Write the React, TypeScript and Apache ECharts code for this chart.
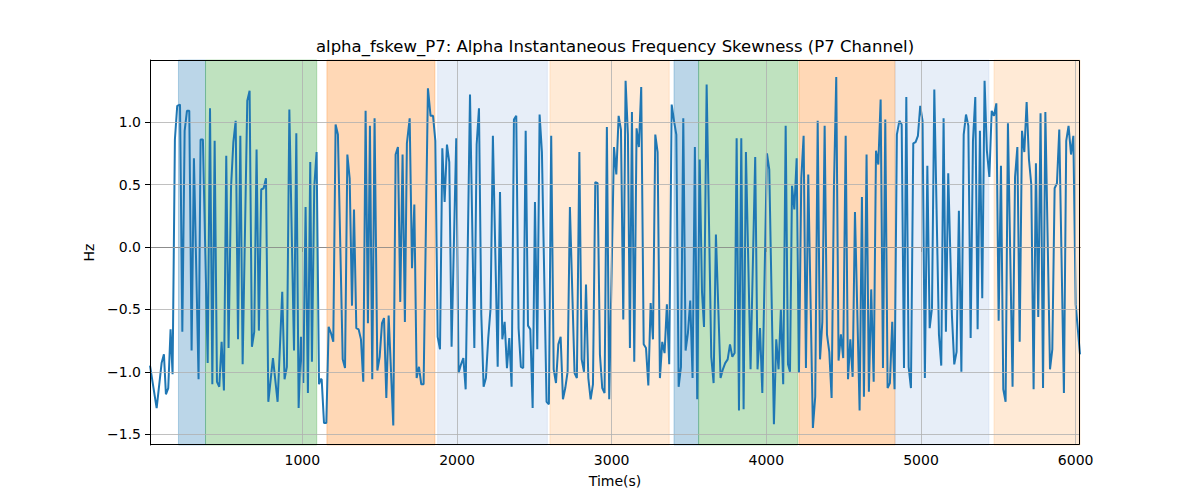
import { useEffect, useRef } from 'react';
import * as echarts from 'echarts';

const TITLE = 'alpha_fskew_P7: Alpha Instantaneous Frequency Skewness (P7 Channel)';
const FONT = '"DejaVu Sans", sans-serif';

// time (s) of each sample
const timeSec = [
  15, 58, 90, 105, 118, 133, 148, 161, 176, 191, 209, 224, 239, 254, 269, 284, 299, 329, 342, 357,
  388, 403, 418, 433, 448, 463, 478, 493, 508, 523, 539, 554, 569, 584, 599, 614, 644, 659, 674, 689,
  704, 719, 734, 750, 765, 780, 810, 840, 870, 885, 900, 916, 946, 961, 976, 991, 1006, 1021, 1036, 1051,
  1062, 1077, 1092, 1108, 1118, 1125, 1140, 1155, 1170, 1185, 1200, 1215, 1230, 1261, 1276, 1291, 1306, 1321, 1334, 1349,
  1364, 1379, 1394, 1409, 1424, 1437, 1452, 1467, 1485, 1500, 1515, 1528, 1543, 1558, 1588, 1603, 1618, 1633, 1648, 1663,
  1676, 1694, 1709, 1724, 1739, 1754, 1769, 1784, 1812, 1829, 1845, 1860, 1875, 1890, 1905, 1920, 1935, 1950, 1965, 1995,
  2010, 2026, 2041, 2056, 2084, 2112, 2127, 2142, 2157, 2172, 2187, 2202, 2217, 2232, 2263, 2278, 2293, 2308, 2323, 2338,
  2353, 2368, 2383, 2398, 2413, 2428, 2444, 2459, 2474, 2489, 2504, 2519, 2534, 2549, 2579, 2594, 2609, 2625, 2640, 2655,
  2670, 2685, 2700, 2715, 2730, 2760, 2775, 2791, 2806, 2821, 2834, 2849, 2864, 2879, 2894, 2909, 2924, 2939, 2954, 2969,
  2984, 3015, 3030, 3045, 3060, 3075, 3090, 3105, 3118, 3131, 3146, 3161, 3176, 3191, 3207, 3222, 3237, 3252, 3267, 3282,
  3297, 3312, 3327, 3342, 3357, 3372, 3388, 3403, 3418, 3433, 3448, 3463, 3478, 3493, 3508, 3523, 3538, 3553, 3569, 3584,
  3597, 3614, 3644, 3659, 3674, 3704, 3719, 3734, 3750, 3765, 3780, 3795, 3808, 3823, 3838, 3853, 3868, 3898, 3928, 3943,
  3959, 3974, 4004, 4019, 4049, 4064, 4079, 4094, 4109, 4125, 4140, 4153, 4166, 4181, 4196, 4211, 4226, 4241, 4256, 4271,
  4301, 4316, 4332, 4347, 4362, 4377, 4392, 4407, 4422, 4437, 4452, 4467, 4482, 4497, 4513, 4528, 4543, 4558, 4573, 4603,
  4618, 4631, 4648, 4663, 4678, 4694, 4709, 4724, 4739, 4754, 4769, 4784, 4799, 4814, 4829, 4844, 4860, 4875, 4890, 4905,
  4920, 4935, 4950, 4965, 4980, 4995, 5010, 5025, 5041, 5056, 5071, 5086, 5116, 5131, 5146, 5161, 5176, 5200, 5215, 5230,
  5245, 5261, 5276, 5291, 5306, 5321, 5336, 5351, 5366, 5381, 5396, 5411, 5426, 5442, 5457, 5472, 5487, 5502, 5517, 5532,
  5547, 5562, 5592, 5608, 5623, 5638, 5653, 5668, 5683, 5698, 5713, 5728, 5743, 5758, 5773, 5789, 5804, 5834, 5849, 5864,
  5879, 5894, 5924, 5939, 5954, 5970, 5985, 6000, 6028,
];

// skewness (Hz), one per entry of timeSec
const skewHz = [
  -0.95, -1.29, -0.93, -0.86, -1.18, -1.13, -0.66, -1.02, 0.86, 1.13, 1.14, -0.68, 0.93, 1.09, 1.09, -0.83, 0.71, -1.06, 0.86, 0.86,
  -0.93, 1.11, -1.1, 0.85, -1.08, -1.12, -0.76, -1.15, 0.73, -0.81, 0.48, 0.84, 1.01, -0.74, 0.89, -0.94, 1.17, 1.25, -0.8, -0.68,
  0.78, -0.67, 0.46, 0.47, 0.55, -1.24, -0.89, -1.24, -0.36, -1.06, -0.96, 1.1, -0.83, 0.91, -1.29, -0.72, -1.09, 0.32, -1.17, 0.68,
  -0.92, 0.48, 0.76, -1.1, -1.06, -1.06, -1.41, -1.41, -0.64, -0.69, -0.76, 0.98, 0.9, -0.9, -0.97, 0.74, 0.55, -0.47, 0.3, -0.65,
  -0.66, -0.74, -1.08, 1.09, -0.61, 0.97, -1.06, 1.03, -0.99, -0.88, -0.61, -0.57, -1.21, -0.55, -1.43, 0.74, 0.8, -0.44, 0.74, -0.6,
  0.83, 1.03, -0.17, 0.34, -1.05, -0.96, -1.1, -1.1, 1.27, 1.05, 1.05, 0.85, -0.72, -0.82, 0.79, 0.36, 0.82, 0.68, -0.8, 0.87,
  -1.01, -0.94, -0.89, -1.14, 1.22, -0.81, 0.82, 1.11, -0.54, -1.12, -1.05, -0.73, -0.49, 0.89, -0.96, 0.44, -0.74, -0.6, -0.97, -0.73,
  -1.12, 1.02, 1.05, -0.65, -0.96, -0.97, 0.93, -0.63, -0.66, -1.29, 0.36, -0.82, 1.06, 0.76, -1.24, -1.26, 0.89, -0.98, -1.09, -0.78,
  -0.72, -1.22, -1.13, -1.0, 0.32, -1.01, -1.05, 0.76, -0.9, -1.0, -0.3, -1.05, -1.22, -1.1, 0.52, 0.51, -0.86, -1.13, -1.17, 0.96,
  -1.22, 0.8, 0.58, 1.05, 0.94, -0.58, 1.33, 0.9, -0.81, 1.08, -0.92, 0.95, 0.8, 1.28, -0.78, -0.81, -1.11, -0.45, -0.74, 0.9,
  0.76, -1.05, -0.76, -0.85, -0.46, -0.94, 1.14, 1.01, 0.9, -1.12, -0.96, 1.03, -0.83, -0.69, -0.43, -1.05, 0.8, -1.22, 0.7, -0.36,
  -0.64, 1.3, -0.88, -1.09, 0.1, -1.05, -0.98, -0.93, -0.9, -0.78, -0.88, -0.85, 0.87, -1.31, 0.87, -1.3, 0.76, -0.98, 0.72, -0.98,
  -0.65, -1.17, 0.75, 0.62, -1.42, -0.74, -0.98, -0.5, -1.1, 0.97, -0.94, -1.0, 0.49, 0.3, 0.71, -1.01, 0.55, 0.89, -0.97, 0.58,
  -1.45, -1.2, 1.01, -0.9, -0.6, 0.97, -0.7, -0.84, -1.21, 0.47, 1.36, -0.91, -0.7, -0.89, 0.89, -1.06, -0.74, -1.04, 0.28, -1.31,
  0.4, -1.2, 0.74, -1.16, -0.34, -1.08, 0.77, 0.66, 1.18, -0.97, 1.02, -1.13, -1.09, -0.6, -1.14, 0.9, 1.01, 0.98, -0.97, 1.2,
  -0.96, -1.13, 0.83, 0.84, 0.89, 1.13, 1.01, -1.05, 0.65, -0.65, -0.49, 1.26, -0.7, -0.95, 1.03, -0.68, 0.59, -0.55, -0.94, -0.84,
  0.29, -1.0, 0.9, 1.06, 0.97, -0.73, 0.85, 1.2, -0.66, 0.93, -0.41, 1.33, 0.77, 0.56, 1.09, 1.05, 1.15, -0.59, 0.65, -1.14,
  -1.24, 0.99, -1.12, 0.56, 0.8, -0.76, 0.93, 0.76, 1.16, 0.7, 0.5, -1.14, 0.67, -0.56, 1.07, -1.13, 1.08, -0.98, -0.82, 0.47,
  0.51, 0.94, -1.17, 0.85, 0.97, 0.74, 0.89, -0.46, -0.86,
];

// shaded time segments
const bandStart = [199, 374, 1159, 1875, 2601, 3403, 3562, 4211, 4832, 5472];
const bandEnd = [374, 1093, 1857, 2584, 3372, 3562, 4203, 4832, 5439, 6028];
const bandColor = [
  'rgba(31,119,180,0.3)',
  'rgba(44,160,44,0.3)',
  'rgba(255,127,14,0.3)',
  'rgba(174,199,232,0.3)',
  'rgba(255,187,120,0.3)',
  'rgba(31,119,180,0.3)',
  'rgba(44,160,44,0.3)',
  'rgba(255,127,14,0.3)',
  'rgba(174,199,232,0.3)',
  'rgba(255,187,120,0.3)',
];

const xTicks = [1000, 2000, 3000, 4000, 5000, 6000];
const yTicks = [-1.5, -1.0, -0.5, 0.0, 0.5, 1.0];

const X_MIN = 15;
const X_MAX = 6028;
const Y_MIN = -1.586;
const Y_MAX = 1.497;

export default function App() {
  const elRef = useRef<HTMLDivElement | null>(null);

  useEffect(() => {
    const el = elRef.current;
    if (!el) return;
    const chart = echarts.init(el, undefined, { renderer: 'svg' });

    const tickLabel = { color: '#000', fontSize: 14, fontFamily: FONT };

    chart.setOption({
      animation: false,
      backgroundColor: '#fff',
      grid: { left: 150, right: 120, top: 60, bottom: 55 },
      graphic: [
        {
          type: 'text',
          x: 615,
          y: 46,
          style: {
            text: TITLE,
            fill: '#000',
            font: `16.5px ${FONT}`,
            textAlign: 'center',
            textVerticalAlign: 'middle',
          },
        },
        {
          // axes frame drawn above the shaded bands
          type: 'rect',
          z: 100,
          silent: true,
          shape: { x: 150.5, y: 60.5, width: 929, height: 384 },
          style: { fill: 'none', stroke: '#000', lineWidth: 1 },
        },
      ],
      xAxis: {
        type: 'value',
        min: X_MIN,
        max: X_MAX,
        name: 'Time(s)',
        nameLocation: 'middle',
        nameGap: 29,
        nameTextStyle: tickLabel,
        splitLine: { show: false },
        axisLine: { show: true, lineStyle: { color: '#000', width: 1 } },
        axisTick: { show: true, length: 5, customValues: xTicks, lineStyle: { color: '#000' } },
        axisLabel: {
          ...tickLabel,
          margin: 8,
          customValues: xTicks,
          formatter: (v: number) => String(v),
        },
      },
      yAxis: {
        type: 'value',
        min: Y_MIN,
        max: Y_MAX,
        name: 'Hz',
        nameLocation: 'middle',
        nameGap: 50,
        nameTextStyle: tickLabel,
        splitLine: { show: false },
        axisLine: { show: true, lineStyle: { color: '#000', width: 1 } },
        axisTick: { show: true, length: 5, customValues: yTicks, lineStyle: { color: '#000' } },
        axisLabel: {
          ...tickLabel,
          margin: 9,
          customValues: yTicks,
          formatter: (v: number) => v.toFixed(1).replace('-', '\u2212'),
        },
      },
      series: [
        {
          name: 'bands',
          type: 'line',
          data: [],
          z: 1,
          silent: true,
          markArea: {
            silent: true,
            data: bandStart.map((s, i) => [
              { xAxis: s, itemStyle: { color: bandColor[i], borderColor: bandColor[i], borderWidth: 1 } },
              { xAxis: bandEnd[i] },
            ]),
          },
        },
        {
          name: 'grid',
          type: 'line',
          data: [],
          z: 2,
          silent: true,
          markLine: {
            silent: true,
            symbol: ['none', 'none'],
            label: { show: false },
            lineStyle: { color: '#b0b0b0', width: 0.8, type: 'solid' },
            data: [
              ...xTicks.map((v) => ({ xAxis: v })),
              ...yTicks.map((v) => ({ yAxis: v })),
            ],
          },
        },
        {
          name: 'alpha_fskew_P7',
          type: 'line',
          z: 3,
          symbol: 'none',
          showSymbol: false,
          clip: true,
          lineStyle: { color: '#1f77b4', width: 2 },
          data: timeSec.map((t, i) => [t, skewHz[i]]),
        },
      ],
    });

    return () => {
      chart.dispose();
    };
  }, []);

  return (
    <div
      ref={elRef}
      style={{ position: 'fixed', left: 0, top: 0, width: 1200, height: 500, background: '#fff' }}
    />
  );
}
